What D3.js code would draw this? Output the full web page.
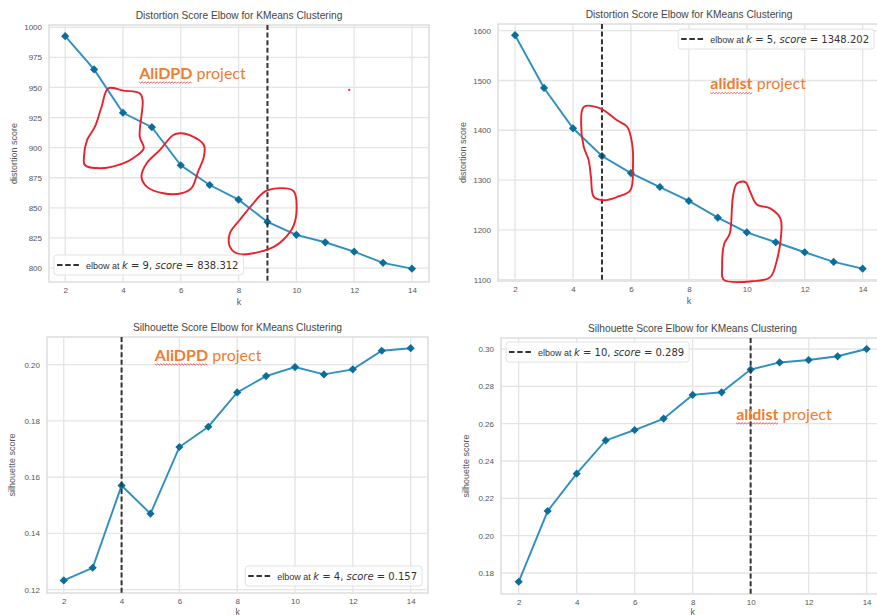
<!DOCTYPE html>
<html><head><meta charset="utf-8">
<script src="https://cdn.jsdelivr.net/npm/d3@7"></script>
<style>body{margin:0;background:#fff}</style>
</head><body>
<svg id="c" width="877" height="615"></svg>
<script>
// ---------- data ----------
const ks = [2,3,4,5,6,7,8,9,10,11,12,13,14];
const alidpdDistortion = [992.6,965,929,917,885.4,869,856.8,838.312,827.6,821.4,813.6,804.3,799.5];
const alidistDistortion = [1591,1485,1404,1348.202,1314,1286,1258,1224.5,1195,1175,1155,1135.5,1122];
const alidpdSilhouette = [0.1233,0.1278,0.157,0.1470,0.1707,0.1779,0.1901,0.1959,0.1991,0.1965,0.1983,0.2049,0.2058];
const alidistSilhouette = [0.1753,0.2132,0.2332,0.2510,0.2566,0.2627,0.2754,0.2768,0.289,0.2928,0.2941,0.2961,0.300];
const elbowK = [9,5,4,10];
const elbowScoreLabels = ["838.312","1348.202","0.157","0.289"];
const titles = ["Distortion Score Elbow for KMeans Clustering","Distortion Score Elbow for KMeans Clustering",
                "Silhouette Score Elbow for KMeans Clustering","Silhouette Score Elbow for KMeans Clustering"];
const yLabels = ["distortion score","distortion score","silhouette score","silhouette score"];
const xLabel = "k";
const xTicks = [2,4,6,8,10,12,14];
const yTicksP1 = [800,825,850,875,900,925,950,975,1000];
const yTicksP2 = [1100,1200,1300,1400,1500,1600];
const yTicksP3 = [0.12,0.14,0.16,0.18,0.20];
const yTicksP4 = [0.18,0.20,0.22,0.24,0.26,0.28,0.30];
const projectNames = ["AliDPD","alidist","AliDPD","alidist"];
const projectSuffix = " project";
// annotation anchor points in data coordinates [k, score]
const projectLabelAt = [[4.56,957.1],[8.74,1482],[5.15,0.2013],[9.50,0.2621]];
// hand-drawn red loops in data coordinates [k, score]
const loopsP1 = [
 [[3.49,949.3],[4.01,947.4],[4.58,945.2],[4.68,939.6],[4.58,909.1],[4.72,899.5],[4.35,891.2],[4.01,887.0],[3.20,882.9],[2.68,885.6],[2.65,892.5],[2.76,906.4],[3.03,917.4],[3.26,934]],
 [[5.97,912.0],[6.31,910.5],[6.80,902.2],[6.80,892.5],[6.60,880.1],[6.37,866.3],[6.03,862.1],[5.39,862.1],[4.82,867.6],[4.64,875.9],[4.82,887.0],[5.28,898.1],[5.74,910.5]],
 [[8.97,864.3],[9.89,864.3],[10.01,851.0],[9.89,834.4],[9.54,823.3],[9.20,817.3],[8.51,812.3],[7.99,811.7],[7.70,817.8],[7.70,828.9],[8.04,839.9],[8.51,853.8]]
];
const loopsP2 = [
 [[4.37,1447],[4.94,1444],[5.52,1420],[5.87,1407],[6.04,1373],[6.07,1326],[5.98,1279.5],[5.52,1266],[5.06,1259.4],[4.72,1266],[4.62,1306],[4.54,1340],[4.37,1367],[4.28,1414]],
 [[9.66,1293],[9.95,1296],[10.12,1276],[10.35,1251],[10.81,1243],[11.16,1223],[11.19,1192],[11.04,1139],[10.81,1105],[10.24,1097],[9.20,1100],[9.15,1125],[9.22,1172],[9.41,1192],[9.49,1246],[9.52,1266]]
];
const redDotP1 = [[11.83,948]];

// ---------- layout ----------
const panels = [
 {values: alidpdDistortion, yTicks: yTicksP1, fmt: d3.format("d"), box:{l:49,r:429,t:25,b:282}, xDom:[1.44,14.59], yDom:[788.4,1001.9], legend:"ll", loops: loopsP1, dots: redDotP1},
 {values: alidistDistortion, yTicks: yTicksP2, fmt: d3.format("d"), box:{l:498,r:880,t:24,b:281}, xDom:[1.41,14.6], yDom:[1097.2,1613.5], legend:"ur", loops: loopsP2, dots: []},
 {values: alidpdSilhouette, yTicks: yTicksP3, fmt: d3.format(".2f"), box:{l:47,r:428,t:337,b:593}, xDom:[1.42,14.6], yDom:[0.11883,0.20978], legend:"lr", loops: [], dots: []},
 {values: alidistSilhouette, yTicks: yTicksP4, fmt: d3.format(".2f"), box:{l:501,r:884,t:338,b:594}, xDom:[1.39,14.6], yDom:[0.16875,0.30589], legend:"ul", loops: [], dots: []}
];

const svg = d3.select("#c");
const SANS = "'Liberation Sans', Arial, sans-serif";
const LINE_C = "#2f8fc0", MARK_C = "#0b6e9a", GRID_C = "#e4e4e4", FRAME_C = "#d8d8d8";

panels.forEach((p, i) => {
  const x = d3.scaleLinear().domain(p.xDom).range([p.box.l, p.box.r]);
  const y = d3.scaleLinear().domain(p.yDom).range([p.box.b, p.box.t]);
  const g = svg.append("g");

  g.append("rect").attr("x", p.box.l).attr("y", p.box.t)
    .attr("width", p.box.r - p.box.l).attr("height", p.box.b - p.box.t)
    .attr("fill", "#fff").attr("stroke", FRAME_C).attr("stroke-width", 1.3);

  // grid
  g.append("g").selectAll("line").data(xTicks).join("line")
    .attr("x1", d => x(d)).attr("x2", d => x(d)).attr("y1", p.box.t).attr("y2", p.box.b)
    .attr("stroke", GRID_C).attr("stroke-width", 1.3);
  g.append("g").selectAll("line").data(p.yTicks).join("line")
    .attr("y1", d => y(d)).attr("y2", d => y(d)).attr("x1", p.box.l).attr("x2", p.box.r)
    .attr("stroke", GRID_C).attr("stroke-width", 1.3);

  // axes (labels only, matplotlib style)
  const xa = d3.axisBottom(x).tickValues(xTicks).tickSize(0).tickPadding(5).tickFormat(d3.format("d"));
  const xg = g.append("g").attr("transform", `translate(0,${p.box.b})`).call(xa);
  const ya = d3.axisLeft(y).tickValues(p.yTicks).tickSize(0).tickPadding(7).tickFormat(p.fmt);
  const yg = g.append("g").attr("transform", `translate(${p.box.l},0)`).call(ya);
  [xg, yg].forEach(a => {
    a.select(".domain").remove();
    a.selectAll("text").attr("font-family", SANS).attr("font-size", 8).attr("fill", "#555");
  });

  // titles & labels
  g.append("text").attr("x", (p.box.l + p.box.r) / 2).attr("y", p.box.t - 6)
    .attr("text-anchor", "middle").attr("font-family", SANS).attr("font-size", 10.2).attr("fill", "#444")
    .text(titles[i]);
  g.append("text").attr("x", (p.box.l + p.box.r) / 2).attr("y", Math.min(p.box.b + 23, 614.5))
    .attr("text-anchor", "middle").attr("font-family", SANS).attr("font-size", p.box.b + 23 > 614.5 ? 8.5 : 9).attr("fill", "#555")
    .text(xLabel);
  g.append("text").attr("transform", `translate(${p.box.l - 32},${(p.box.t + p.box.b) / 2}) rotate(-90)`)
    .attr("text-anchor", "middle").attr("font-family", SANS).attr("font-size", 9).attr("fill", "#555")
    .text(yLabels[i]);

  // series
  const pts = ks.map((k, j) => [k, p.values[j]]);
  g.append("path").datum(pts)
    .attr("d", d3.line().x(d => x(d[0])).y(d => y(d[1])))
    .attr("fill", "none").attr("stroke", LINE_C).attr("stroke-width", 1.9);
  const s = 4.1;
  g.append("g").selectAll("path").data(pts).join("path")
    .attr("d", d => { const cx = x(d[0]), cy = y(d[1]);
      return `M${cx},${cy - s}L${cx + s},${cy}L${cx},${cy + s}L${cx - s},${cy}Z`; })
    .attr("fill", MARK_C);

  // elbow line
  g.append("line").attr("x1", x(elbowK[i])).attr("x2", x(elbowK[i]))
    .attr("y1", p.box.t).attr("y2", p.box.b)
    .attr("stroke", "#333").attr("stroke-width", 2).attr("stroke-dasharray", "5,2.6");

  // red hand-drawn loops
  const loopLine = d3.line().x(d => x(d[0])).y(d => y(d[1])).curve(d3.curveCatmullRomClosed.alpha(0.5));
  g.append("g").selectAll("path").data(p.loops).join("path")
    .attr("d", loopLine).attr("fill", "none").attr("stroke", "#e8212b").attr("stroke-width", 1.9);
  g.append("g").selectAll("circle").data(p.dots).join("circle")
    .attr("cx", d => x(d[0])).attr("cy", d => y(d[1])).attr("r", 1.1).attr("fill", "#e8212b");

  // legend
  const lg = g.append("g");
  const bg = lg.append("rect");
  lg.append("line").attr("x1", 3).attr("x2", 25).attr("y1", 10).attr("y2", 10)
    .attr("stroke", "#333").attr("stroke-width", 2).attr("stroke-dasharray", "5.5,2.7");
  const t = lg.append("text").attr("x", 32).attr("y", 13.5).attr("fill", "#333");
  t.append("tspan").attr("font-family", SANS).attr("font-size", 9).text("elbow at ");
  const M = "'DejaVu Sans', sans-serif";
  t.append("tspan").attr("font-family", M).attr("font-size", 10).attr("font-style", "italic").text("k");
  t.append("tspan").attr("font-family", M).attr("font-size", 10).text(` = ${elbowK[i]}, `);
  t.append("tspan").attr("font-family", M).attr("font-size", 10).attr("font-style", "italic").text("score");
  t.append("tspan").attr("font-family", M).attr("font-size", 10).text(` = ${elbowScoreLabels[i]}`);
  const lw = 32 + t.node().getComputedTextLength() + 5, lh = 20;
  bg.attr("width", lw).attr("height", lh).attr("rx", 3)
    .attr("fill", "#fff").attr("fill-opacity", 0.8).attr("stroke", "#e2e2e2").attr("stroke-width", 1);
  const visR = Math.min(p.box.r, 880);
  let lx, ly;
  if (p.legend === "ll") { lx = p.box.l + 5; ly = p.box.b - 7 - lh; }
  if (p.legend === "ur") { lx = visR - 6 - lw; ly = p.box.t + 5; }
  if (p.legend === "lr") { lx = p.box.r - 6 - lw; ly = p.box.b - 7 - lh; }
  if (p.legend === "ul") { lx = p.box.l + 5; ly = p.box.t + 4; }
  lg.attr("transform", `translate(${lx},${ly})`);

  // project annotation (orange)
  const ax = x(projectLabelAt[i][0]), ay = y(projectLabelAt[i][1]);
  const at = g.append("text").attr("x", ax).attr("y", ay)
    .attr("font-family", "Lato, 'Open Sans', sans-serif").attr("font-size", 16).attr("fill", "#ed7d31");
  const bold = at.append("tspan").attr("font-weight", "bold").text(projectNames[i]);
  at.append("tspan").text(projectSuffix);
  const bw = bold.node().getComputedTextLength();
  const wave = [];
  for (let u = 0; u <= bw; u += 1.5) wave.push([ax + u, ay + 3.2 + ((Math.round(u / 1.5) % 2) ? 1 : -0.2)]);
  g.append("path").attr("d", d3.line()(wave)).attr("fill", "none").attr("stroke", "#e8212b").attr("stroke-width", 0.7);
});
</script>
</body></html>
